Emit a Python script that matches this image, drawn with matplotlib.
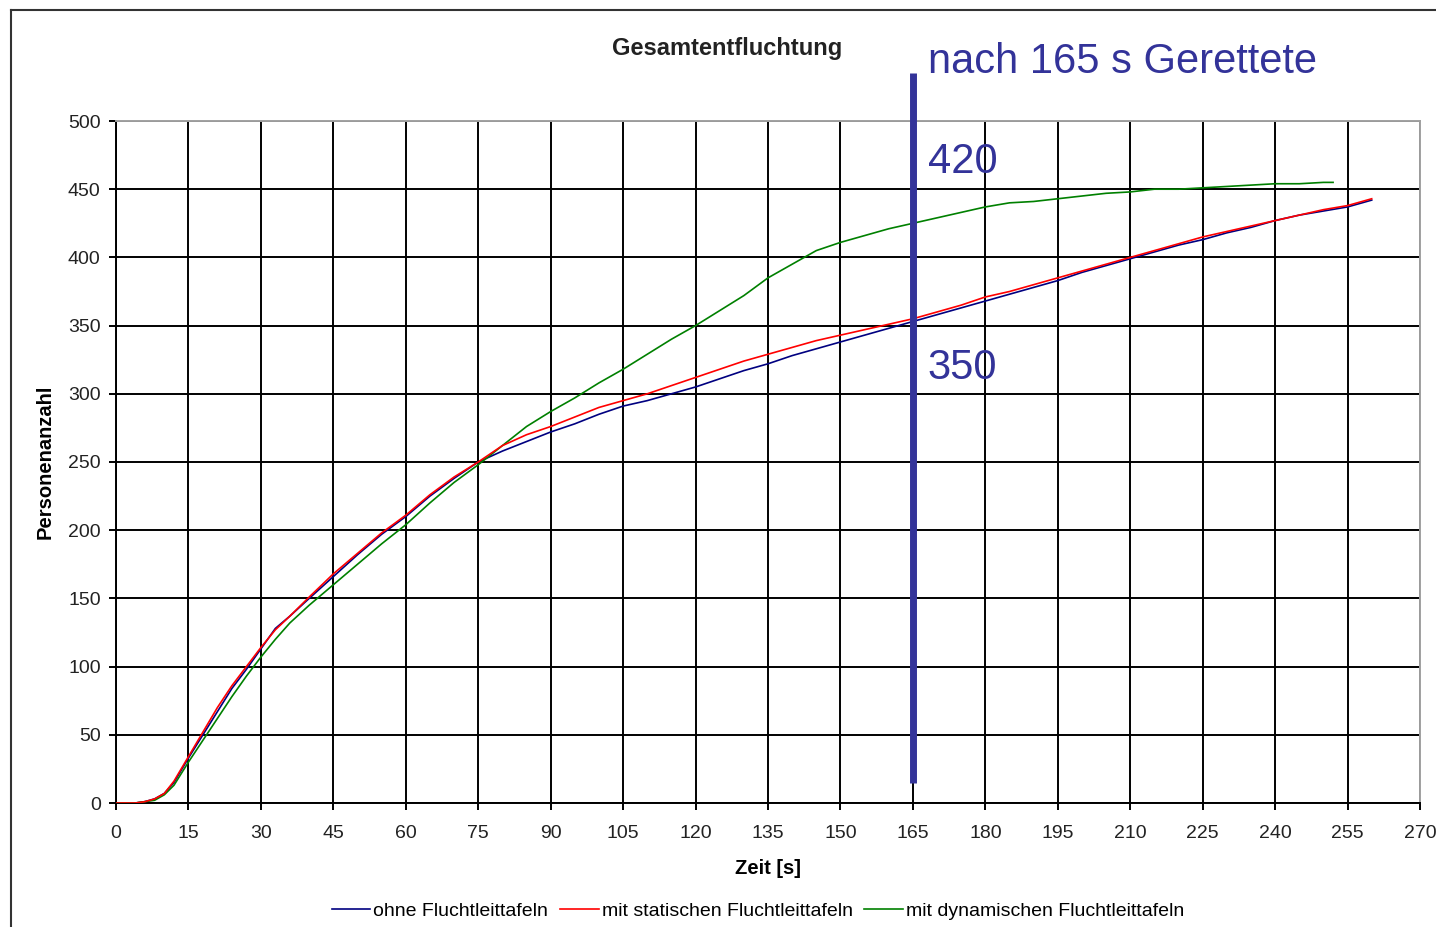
import matplotlib
matplotlib.use("Agg")
import matplotlib.pyplot as plt
from matplotlib.lines import Line2D

plt.rcParams['font.family'] = ['Liberation Sans', 'DejaVu Sans']

# Time axis [s]
t_ohne = [0, 4, 6, 8, 10, 12, 15, 18, 21, 24, 27, 30, 33, 36, 40, 45, 50, 55, 60, 65, 70, 75,
          80, 85, 90, 95, 100, 105, 110, 115, 120, 125, 130, 135, 140, 145, 150, 155, 160, 165,
          170, 175, 180, 185, 190, 195, 200, 205, 210, 215, 220, 225, 230, 235, 240, 245, 250, 255, 260]
ohne = [0, 0, 1, 3, 7, 15, 33, 50, 67, 84, 98, 113, 128, 137, 150, 166, 182, 197, 210, 225, 238, 250,
        258, 265, 272, 278, 285, 291, 295, 300, 305, 311, 317, 322, 328, 333, 338, 343, 348, 353,
        358, 363, 368, 373, 378, 383, 389, 394, 399, 404, 409, 413, 418, 422, 427, 431, 434, 437, 442]

t_stat = t_ohne
statisch = [0, 0, 1, 3, 7, 16, 34, 52, 70, 86, 100, 114, 127, 137, 151, 168, 183, 198, 211, 226, 239, 250,
            262, 270, 276, 283, 290, 295, 300, 306, 312, 318, 324, 329, 334, 339, 343, 347, 351, 355,
            360, 365, 371, 375, 380, 385, 390, 395, 400, 405, 410, 415, 419, 423, 427, 431, 435, 438, 443]

t_dyn = [0, 4, 6, 8, 10, 12, 15, 18, 21, 24, 27, 30, 33, 36, 40, 45, 50, 55, 60, 65, 70, 75,
         80, 85, 90, 95, 100, 105, 110, 115, 120, 125, 130, 135, 140, 145, 150, 155, 160, 165,
         170, 175, 180, 185, 190, 195, 200, 205, 210, 215, 220, 225, 230, 235, 240, 245, 250, 252]
dynamisch = [0, 0, 1, 2, 6, 13, 30, 46, 62, 78, 93, 107, 120, 132, 145, 160, 175, 190, 204, 220, 235, 248,
             262, 276, 287, 297, 308, 318, 329, 340, 350, 361, 372, 385, 395, 405, 411, 416, 421, 425,
             429, 433, 437, 440, 441, 443, 445, 447, 448, 450, 450, 451, 452, 453, 454, 454, 455, 455]

series_labels = ["ohne Fluchtleittafeln", "mit statischen Fluchtleittafeln", "mit dynamischen Fluchtleittafeln"]
x_ticks = list(range(0, 271, 15))
y_ticks = list(range(0, 501, 50))

mark_t = 165
mark_top_texts = ["nach 165 s Gerettete", "420", "350"]

W, H = 1436, 927
fig = plt.figure(figsize=(W / 100, H / 100), dpi=100)
ax = fig.add_axes([116 / W, 1 - 803 / H, (1420 - 116) / W, (803 - 121) / H])

ax.plot(t_ohne, ohne, color="#000080", lw=1.2, label=series_labels[0], zorder=3)
ax.plot(t_stat, statisch, color="#ff0000", lw=1.2, label=series_labels[1], zorder=4)
ax.plot(t_dyn, dynamisch, color="#008000", lw=1.2, label=series_labels[2], zorder=3)

ax.set_xlim(0, 270)
ax.set_ylim(0, 500)
ax.set_xticks(x_ticks)
ax.set_yticks(y_ticks)
ax.grid(True, color="black", lw=1.4)
ax.set_axisbelow(True)
for s in ["top", "right"]:
    ax.spines[s].set_color("#a0a0a0")
    ax.spines[s].set_linewidth(1.4)
for s in ["left", "bottom"]:
    ax.spines[s].set_color("black")
    ax.spines[s].set_linewidth(1.4)
ax.tick_params(axis="both", direction="out", length=5, width=1.4, colors="black",
               labelsize=14, labelcolor="#222222")
ax.tick_params(axis="x", pad=11)
ax.tick_params(axis="y", pad=6)

ax.set_xlabel("Zeit [s]", fontsize=14.5, fontweight="bold", labelpad=12)
fig.text(45 / W, 1 - 462 / H, "Personenanzahl", rotation=90, fontsize=14.5,
         fontweight="bold", ha="center", va="center")
fig.text(727 / W, 1 - 48 / H, "Gesamtentfluchtung", fontsize=17, fontweight="bold",
         ha="center", va="center", color="#222222")

# Annotation: vertical marker at 165 s
ax.plot([mark_t, mark_t], [14.7, 535], color="#333399", lw=5, clip_on=False, zorder=6,
        solid_capstyle="butt")
ax.text(168.1, 543, mark_top_texts[0], color="#333399", fontsize=30, ha="left", va="center",
        clip_on=False)
ax.text(168.1, 470, mark_top_texts[1], color="#333399", fontsize=30, ha="left", va="center",
        clip_on=False, zorder=7)
ax.text(168.1, 319, mark_top_texts[2], color="#333399", fontsize=30, ha="left", va="center",
        clip_on=False, zorder=7)

fig.legend(loc="center", bbox_to_anchor=(758 / W, 1 - 911 / H), ncol=3, frameon=False,
           fontsize=14, handlelength=2.0, handletextpad=0.15, columnspacing=0.6)

# Outer frame (left and top edges visible)
fig.add_artist(Line2D([11 / W, 11 / W], [0, 1 - 10 / H], color="#333333", lw=1.5,
                      transform=fig.transFigure))
fig.add_artist(Line2D([11 / W, 1], [1 - 10 / H, 1 - 10 / H], color="#333333", lw=1.5,
                      transform=fig.transFigure))

fig.savefig("out.png", dpi=100)
